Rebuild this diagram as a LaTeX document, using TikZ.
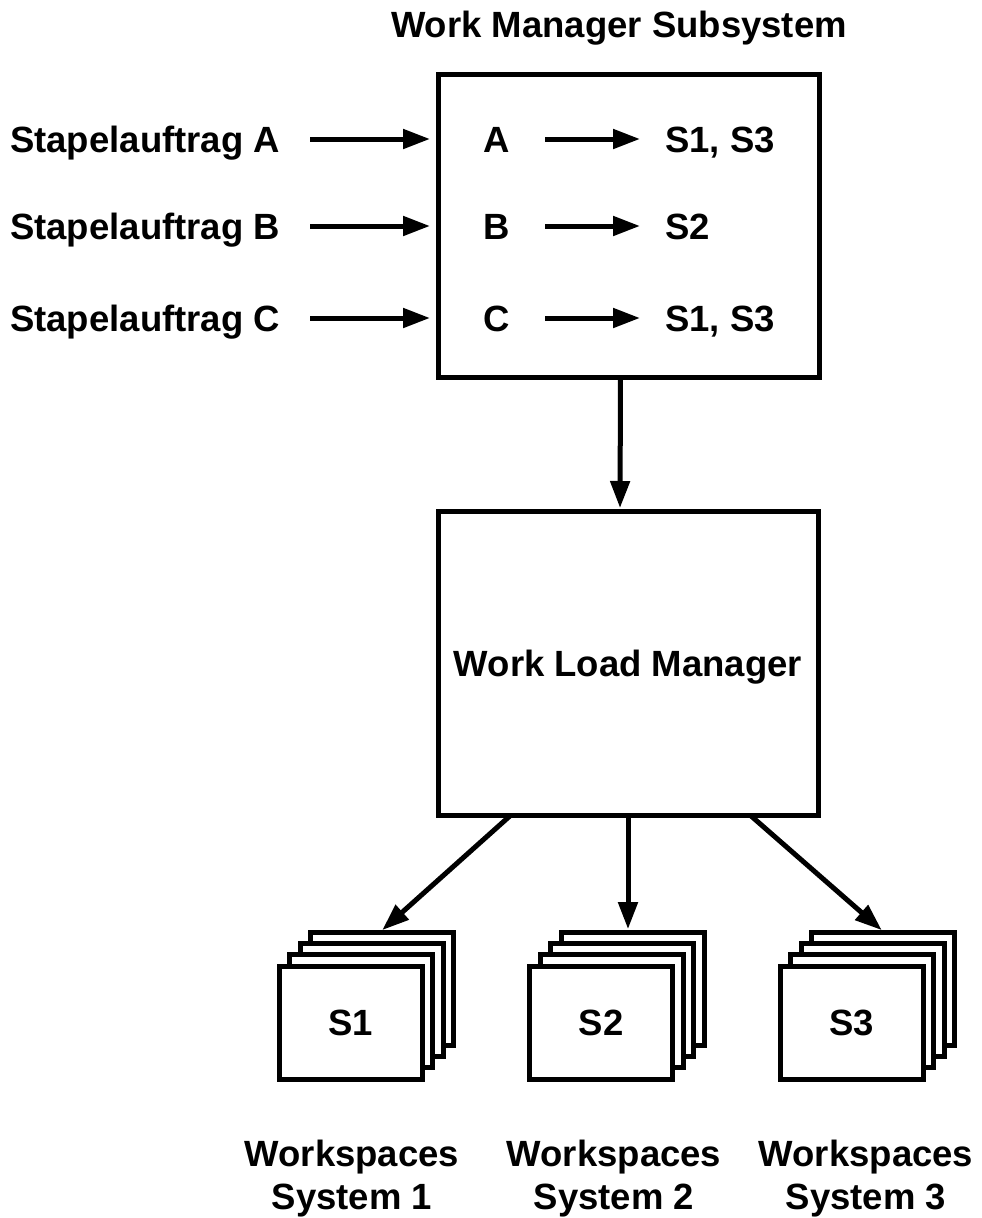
\documentclass[tikz,border=0pt]{standalone}
\usepackage{fontspec}
\setmainfont{Liberation Sans}
\usetikzlibrary{arrows.meta, calc}

\begin{document}
\begin{tikzpicture}[x=1pt, y=-1pt,
  font=\fontsize{36.5}{43}\selectfont\bfseries,
  box/.style={draw, line width=5pt, outer sep=0pt},
  wsbox/.style={box, fill=white, minimum width=143pt, minimum height=113pt},
  txt/.style={inner sep=0pt, text height=26pt, text depth=0pt},
  arr/.style={line width=5pt, -{Triangle[length=27pt, width=19pt]}}]
\useasboundingbox (0,0) rectangle (982,1218);

\node[txt] (title) at (619,24) {Work Manager Subsystem};
\node[box, minimum width=381pt, minimum height=303pt] (wms) at (628.5,225.5) {};
\node[box, txt, minimum width=380pt, minimum height=304pt] (wlm) at (628,663) {Work Load Manager};

\foreach \r/\y/\t in {A/139/{S1, S3}, B/226/{S2}, C/318/{S1, S3}} {
  \node[txt, anchor=west] (st\r) at (10,\y) {Stapelauftrag \r};
  \node[txt] (in\r) at (497,\y) {\r};
  \node[txt, anchor=west] (out\r) at (665,\y) {\t};
  \draw[arr, shorten <=30pt, shorten >=8pt] (st\r) -- (st\r -| wms.west);
  \draw[arr, shorten <=35pt, shorten >=25pt] (in\r) -- (out\r);
}

\draw[arr, shorten >=3pt] ([xshift=-8pt]wms.south) -- ([xshift=-8pt]wlm.north);

% stacked workspaces
\foreach \i/\x/\lx in {1/350.5/352, 2/601/614, 3/851.5/866} {
  \foreach \k in {3,2,1}
    \node[wsbox] (s\i-\k) at (\x+10.5*\k, 1022.5-11.3*\k) {};
  \node[wsbox, txt] (s\i-0) at (\x,1022.5) {S\i};
  \node[align=center, inner sep=0pt, anchor=north] (ws\i) at (\lx,1140) {Workspaces\\System \i};
}

\draw[arr, shorten >=3pt] ($(wlm.south west)!0.192!(wlm.south east)$) -- ($(s1-3.north west)!0.486!(s1-3.north east)$);
\draw[arr, shorten >=3pt] (wlm.south) -- (wlm.south |- s2-3.north);
\draw[arr, shorten >=3pt] ($(wlm.south west)!0.821!(wlm.south east)$) -- ($(s3-3.north west)!0.507!(s3-3.north east)$);
\end{tikzpicture}
\end{document}
